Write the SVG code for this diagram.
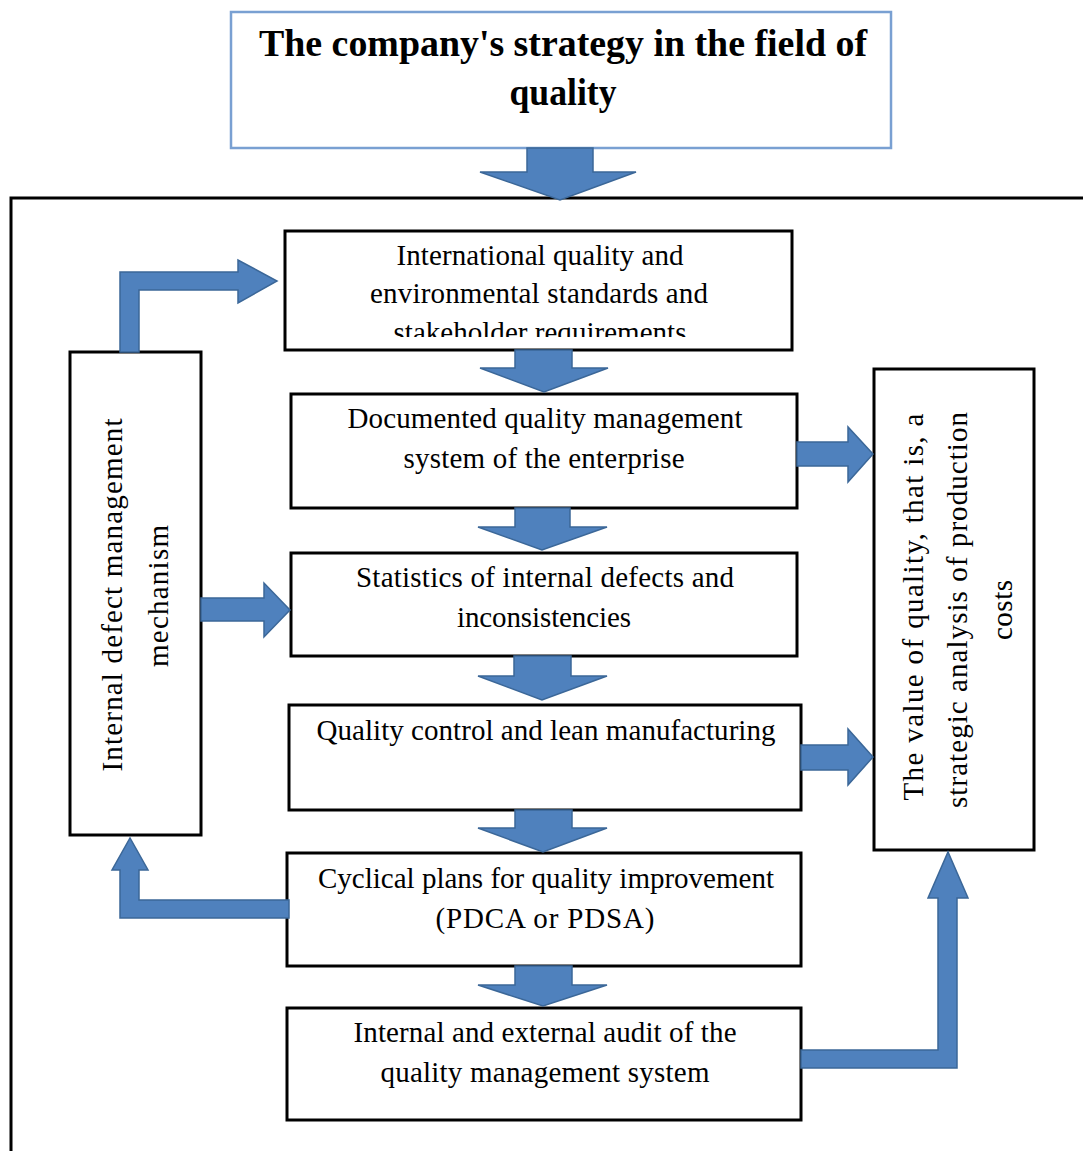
<svg xmlns="http://www.w3.org/2000/svg" width="1083" height="1151" viewBox="0 0 1083 1151">
<style>
  .box { fill: #ffffff; stroke: #000000; stroke-width: 3; }
  .top { fill: #ffffff; stroke: #79a0d2; stroke-width: 2.5; }
  .arr { fill: #4f81bd; stroke: #3b6798; stroke-width: 1.5; stroke-linejoin: miter; }
  .t { font-family: "Liberation Serif", "Times New Roman", serif; font-size: 29px; fill: #000; text-anchor: middle; }
  .title { font-family: "Liberation Serif", "Times New Roman", serif; font-size: 38px; font-weight: bold; fill: #000; text-anchor: middle; }
  .frame { fill: none; stroke: #000; stroke-width: 3; }
</style>
<defs>
  <clipPath id="clip1"><rect x="287" y="233" width="503" height="104"/></clipPath>
</defs>
<rect width="1083" height="1151" fill="#ffffff"/>

<path class="frame" d="M1083,198 H11 V1151"/>

<g id="node-strategy">
  <rect class="top" x="231" y="12" width="660" height="136"/>
  <text class="title" x="563" y="56" textLength="608" lengthAdjust="spacingAndGlyphs">The company's strategy in the field of</text>
  <text class="title" x="563" y="105" textLength="107" lengthAdjust="spacingAndGlyphs">quality</text>
</g>

<g id="node-standards">
  <rect class="box" x="285" y="231" width="507" height="119"/>
  <g clip-path="url(#clip1)">
    <text class="t" x="540" y="265" textLength="287">International  quality  and</text>
    <text class="t" x="539" y="303" textLength="338">environmental  standards and</text>
    <text class="t" x="540" y="342" textLength="293">stakeholder requirements</text>
  </g>
</g>

<g id="node-documented">
  <rect class="box" x="291" y="394" width="506" height="114"/>
  <text class="t" x="545" y="428" textLength="395">Documented quality management</text>
  <text class="t" x="544" y="468" textLength="281">system of the enterprise</text>
</g>

<g id="node-statistics">
  <rect class="box" x="291" y="553" width="506" height="103"/>
  <text class="t" x="545" y="587" textLength="378">Statistics of internal defects and</text>
  <text class="t" x="544" y="627" textLength="174">inconsistencies</text>
</g>

<g id="node-control">
  <rect class="box" x="289" y="705" width="512" height="105"/>
  <text class="t" x="546" y="740" textLength="459">Quality  control and lean manufacturing</text>
</g>

<g id="node-cyclical">
  <rect class="box" x="287" y="853" width="514" height="113"/>
  <text class="t" x="546" y="888" textLength="456">Cyclical plans for quality improvement</text>
  <text class="t" x="545" y="928" textLength="219">(PDCA or PDSA)</text>
</g>

<g id="node-audit">
  <rect class="box" x="287" y="1008" width="514" height="112"/>
  <text class="t" x="545" y="1042" textLength="383">Internal and external audit of the</text>
  <text class="t" x="545" y="1082" textLength="329">quality management system</text>
</g>

<g id="node-defect-mechanism">
  <rect class="box" x="70" y="352" width="131" height="483"/>
  <text class="t" transform="translate(122,595) rotate(-90)" x="0" y="0" textLength="353">Internal  defect management</text>
  <text class="t" transform="translate(168,596) rotate(-90)" x="0" y="0" textLength="142">mechanism</text>
</g>

<g id="node-value">
  <rect class="box" x="874" y="369" width="160" height="481"/>
  <text class="t" transform="translate(923,607) rotate(-90)" x="0" y="0" textLength="387">The value of quality, that is, a</text>
  <text class="t" transform="translate(967,610) rotate(-90)" x="0" y="0" textLength="396">strategic  analysis  of production</text>
  <text class="t" transform="translate(1012,610) rotate(-90)" x="0" y="0" textLength="60">costs</text>
</g>

<g id="connectors">
  <!-- strategy -> frame -->
  <polygon class="arr" points="527,148 593,148 593,172 636,172 560,200 480,172 527,172"/>
  <!-- standards -> documented -->
  <polygon class="arr" points="515,350 572,350 572,368 608,368 544,392 480,368 515,368"/>
  <!-- documented -> statistics -->
  <polygon class="arr" points="515,508 570,508 570,527 607,527 542,550 478,527 515,527"/>
  <!-- statistics -> control -->
  <polygon class="arr" points="514,656 571,656 571,676 607,676 542,700 478,676 514,676"/>
  <!-- control -> cyclical -->
  <polygon class="arr" points="515,810 572,810 572,828 607,828 543,852 478,828 515,828"/>
  <!-- cyclical -> audit -->
  <polygon class="arr" points="515,966 572,966 572,985 607,985 543,1006 478,985 515,985"/>
  <!-- mechanism -> standards -->
  <polygon class="arr" points="120,352 120,272 238,272 238,260 277,281 238,303 238,290 139,290 139,352"/>
  <!-- mechanism -> statistics -->
  <polygon class="arr" points="201,598 264,598 264,583 290,610 264,637 264,621 201,621"/>
  <!-- documented -> value -->
  <polygon class="arr" points="797,442 848,442 848,427 873,454 848,482 848,466 797,466"/>
  <!-- control -> value -->
  <polygon class="arr" points="801,745 848,745 848,729 873,757 848,785 848,770 801,770"/>
  <!-- cyclical -> mechanism -->
  <polygon class="arr" points="289,900 139,900 139,870 148,870 130,838 112,870 120,870 120,918 289,918"/>
  <!-- audit -> value -->
  <polygon class="arr" points="801,1050 938,1050 938,898 928,898 948,852 968,898 957,898 957,1068 801,1068"/>
</g>
</svg>
